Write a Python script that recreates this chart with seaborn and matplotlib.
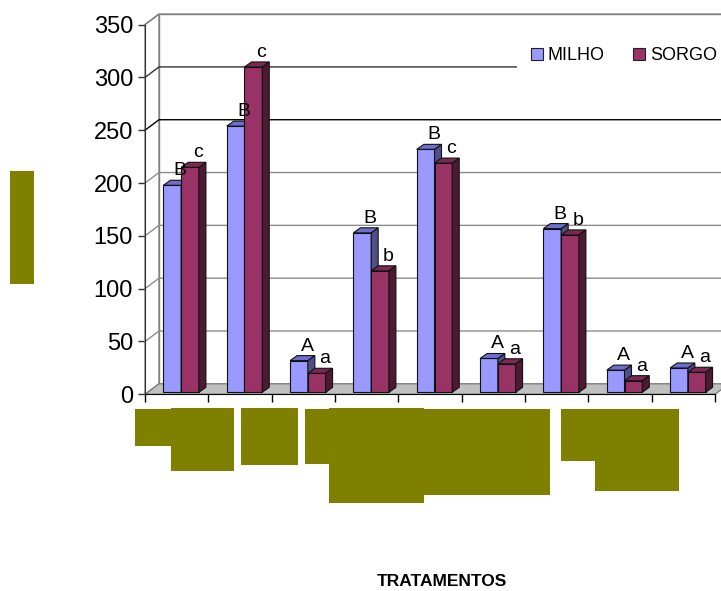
import matplotlib
matplotlib.use('Agg')
import numpy as np
import pandas as pd
import matplotlib.pyplot as plt
import seaborn as sns
from matplotlib.patches import Polygon, Rectangle, Patch

# Data
categories = ['T1', 'T2', 'T3', 'T4', 'T5', 'T6', 'T7', 'T8', 'T9']
milho = [196, 252, 30, 151, 230, 32, 155, 21, 23]
sorgo = [213, 308, 18, 115, 217, 27, 149, 11, 19]
milho_letters = ['B', 'B', 'A', 'B', 'B', 'A', 'B', 'A', 'A']
sorgo_letters = ['c', 'c', 'a', 'b', 'c', 'a', 'b', 'a', 'a']
y_ticks = [0, 50, 100, 150, 200, 250, 300, 350]

df = pd.DataFrame({
    'tratamento': categories * 2,
    'cultura': ['MILHO'] * len(categories) + ['SORGO'] * len(categories),
    'valor': milho + sorgo,
})

sns.set_style('white')
plt.rcParams['font.family'] = ['Liberation Sans', 'DejaVu Sans']
plt.rcParams['text.color'] = 'black'
plt.rcParams['ytick.color'] = 'black'
plt.rcParams['xtick.color'] = 'black'

W, H = 721, 591
fig = plt.figure(figsize=(W / 100, H / 100), dpi=100)
ax = fig.add_axes([145 / W, (H - 394.3) / H, 570 / W, 369.7 / H])

colors = {'MILHO': '#9999FF', 'SORGO': '#993366'}
side_colors = {'MILHO': '#4F4F8A', 'SORGO': '#4D1A33'}
top_colors = {'MILHO': '#6E6ECC', 'SORGO': '#7A2952'}

sns.barplot(data=df, x='tratamento', y='valor', hue='cultura',
            palette=[colors['MILHO'], colors['SORGO']], width=0.56,
            saturation=1, edgecolor='#111111', linewidth=0.8,
            legend=False, ax=ax)

ax.set_xlim(-0.5, 8.5)
ax.set_ylim(0, 350)
ax.set_facecolor('none')
ax.set_xlabel('')
ax.set_ylabel('')


def px(dxp, dyp):
    # pixel offset -> data offset
    inv = ax.transData.inverted()
    a = inv.transform((0, 0))
    b = inv.transform((dxp, dyp))
    return b - a


bx, by = px(14, 10.5)   # depth of walls / floor
fx, fy = px(4.5, 2)     # bars front face offset
sx, sy = px(7, 5)       # bar depth
lx, ly = px(8, 6)       # letter offset

# back wall, left wall and floor
x0w, x1w = -0.5, 8.5
ax.add_patch(Polygon([(x0w + bx, by), (x1w + bx, by), (x1w + bx, 350 + by), (x0w + bx, 350 + by)],
                     closed=True, facecolor='white', edgecolor='#808080', lw=1, zorder=0.5, clip_on=False))
ax.add_patch(Polygon([(x0w, 0), (x0w + bx, by), (x0w + bx, 350 + by), (x0w, 350)],
                     closed=True, facecolor='white', edgecolor='#808080', lw=1, zorder=0.5, clip_on=False))
grid_colors = {50: '#8C8C8C', 100: '#8C8C8C', 150: '#8C8C8C', 200: '#8C8C8C',
               250: '#000000', 300: '#333333', 350: '#808080'}
for v in y_ticks[1:]:
    ax.plot([x0w, x0w + bx, x1w + bx], [v, v + by, v + by], color=grid_colors[v],
            lw=1, zorder=0.6, clip_on=False)
ax.add_patch(Polygon([(x0w, 0), (x1w, 0), (x1w + bx, by), (x0w + bx, by)],
                     closed=True, facecolor='#C0C0C0', edgecolor='#808080', lw=1, zorder=0.7, clip_on=False))

# 3D bars
bars = []
for i, p in enumerate(ax.patches[:2 * len(categories)]):
    crop = 'MILHO' if i < len(categories) else 'SORGO'
    letter = milho_letters[i] if i < len(categories) else sorgo_letters[i - len(categories)]
    bars.append((p, crop, letter))
bars.sort(key=lambda t: t[0].get_x())

for k, (p, crop, letter) in enumerate(bars):
    x0 = p.get_x() + fx
    w = p.get_width()
    h = p.get_height()
    z = 3 + k * 0.1
    p.set_x(x0)
    p.set_y(fy)
    p.set_zorder(z)
    p.set_clip_on(False)
    side = Polygon([(x0 + w, fy), (x0 + w + sx, fy + sy), (x0 + w + sx, fy + h + sy), (x0 + w, fy + h)],
                   closed=True, facecolor=side_colors[crop], edgecolor='#111111', lw=0.8,
                   zorder=z + 0.01, clip_on=False)
    top = Polygon([(x0, fy + h), (x0 + sx, fy + h + sy), (x0 + w + sx, fy + h + sy), (x0 + w, fy + h)],
                  closed=True, facecolor=top_colors[crop], edgecolor='#111111', lw=0.8,
                  zorder=z + 0.02, clip_on=False)
    ax.add_patch(side)
    ax.add_patch(top)
    ax.text(x0 + w / 2 + lx, fy + h + ly, letter, ha='center', va='bottom',
            fontsize=14, color='black', zorder=10)

# axes styling
for s in ['top', 'right']:
    ax.spines[s].set_visible(False)
ax.spines['bottom'].set_color('black')
ax.spines['left'].set_color('#333333')
ax.spines['bottom'].set_zorder(1)
ax.set_yticks(y_ticks)
ax.set_yticklabels([str(v) for v in y_ticks], fontsize=17, color='black')
ax.set_xticks(np.arange(-0.5, 9, 1))
ax.set_xticklabels([])
ax.tick_params(axis='y', length=5, width=1, color='#333333', pad=3.6, left=True, direction='out')
ax.tick_params(axis='x', length=6, width=1, color='black', bottom=True, direction='out')

# legend on white box
fig.add_artist(Rectangle((517 / W, 1 - 86 / H), 204 / W, 56 / H, transform=fig.transFigure,
                         facecolor='white', edgecolor='none', zorder=1))
handles = [Patch(facecolor=colors[c], edgecolor='#222222', lw=0.8) for c in ['MILHO', 'SORGO']]
fig.legend(handles, ['MILHO', 'SORGO'], loc='center left', bbox_to_anchor=(531 / W, 1 - 55.5 / H),
           ncol=2, frameon=False, fontsize=13, borderpad=0, borderaxespad=0,
           handlelength=0.66, handleheight=0.66, handletextpad=0.25, columnspacing=1.6,
           labelcolor='black')

# masked label areas
olive = '#808000'
boxes = [(10, 171, 34, 284), (135, 409, 171, 446), (171, 408, 234, 471), (241, 408, 298, 465),
         (305, 409, 330, 464), (329, 408, 424, 503), (424, 409, 550, 495),
         (561, 409, 679, 461), (595, 409, 679, 491)]
for (xa, ya, xb, yb) in boxes:
    fig.add_artist(Rectangle((xa / W, 1 - yb / H), (xb - xa) / W, (yb - ya) / H,
                             transform=fig.transFigure, facecolor=olive, edgecolor='none', zorder=2))

fig.text(441.5 / W, 1 - 581 / H, 'TRATAMENTOS', ha='center', va='center',
         fontsize=12.5, fontweight='bold', color='black')

fig.savefig('out.png', dpi=100)
